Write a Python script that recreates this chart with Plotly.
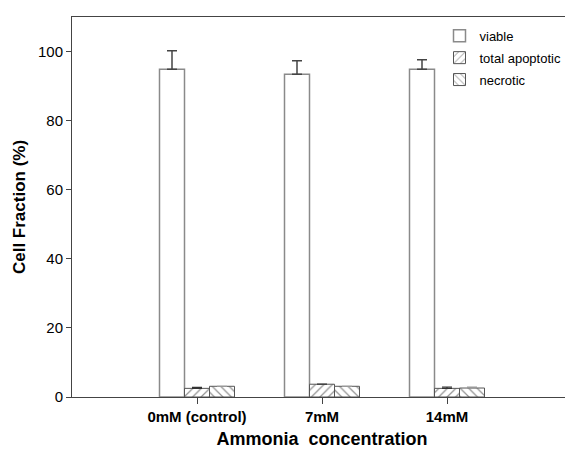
import plotly.graph_objects as go

categories = ["0mM (control)", "7mM", "14mM"]
viable = [94.9, 93.4, 94.9]
viable_err = [5.3, 3.9, 2.7]
apoptotic = [2.5, 3.7, 2.5]
apoptotic_err = [0.3, 0.0, 0.4]
necrotic = [3.1, 3.1, 2.6]
necrotic_err = [0.0, 0.0, 0.3]

xpos = list(range(len(categories)))
font = "Liberation Sans, Arial, Helvetica, sans-serif"

fig = go.Figure()
fig.add_trace(go.Bar(
    name="viable", x=xpos, y=viable, legendgroup="v",
    marker=dict(color="white", line=dict(color="#8a8a8a", width=1.5)),
    error_y=dict(type="data", array=viable_err, arrayminus=[0]*3, symmetric=False,
                 color="#444", thickness=1.5, width=5),
))
fig.add_trace(go.Bar(
    name="total apoptotic", x=xpos, y=apoptotic, legendgroup="a",
    marker=dict(color="white", line=dict(color="#555", width=1),
                pattern=dict(shape="/", fgcolor="#222", bgcolor="white", size=6, solidity=0.2)),
    error_y=dict(type="data", array=apoptotic_err, arrayminus=[0]*3, symmetric=False,
                 color="#333", thickness=1.2, width=5),
))
fig.add_trace(go.Bar(
    name="necrotic", x=xpos, y=necrotic, legendgroup="n",
    marker=dict(color="white", line=dict(color="#555", width=1),
                pattern=dict(shape="\\", fgcolor="#222", bgcolor="white", size=6, solidity=0.2)),
    error_y=dict(type="data", array=necrotic_err, arrayminus=[0]*3, symmetric=False,
                 color="#999", thickness=1.2, width=5),
))

fig.update_layout(
    width=565, height=449,
    margin=dict(l=64, r=1, t=9, b=60, autoexpand=False),
    plot_bgcolor="white", paper_bgcolor="white",
    barmode="group", bargap=0.4, bargroupgap=0,
    font=dict(family=font, color="black", size=14),
    legend=dict(x=0.735, y=0.99, xanchor="left", yanchor="top",
                bgcolor="rgba(0,0,0,0)", font=dict(size=13, family=font),
                itemwidth=30, traceorder="grouped", tracegroupgap=2),
    showlegend=True,
)
fig.update_xaxes(
    range=[-1, 3], tickmode="array", tickvals=xpos, ticktext=[f"<b>{c}</b>" for c in categories],
    ticks="outside", ticklen=6, tickcolor="#444", showline=True, linecolor="#444", linewidth=1,
    mirror=True, showgrid=False, zeroline=False, tickfont=dict(size=15, family=font),
    automargin=False,
    title=dict(text="<b>Ammonia  concentration</b>", font=dict(size=18, family=font), standoff=8),
)
fig.update_yaxes(
    range=[0, 110], tickvals=[0, 20, 40, 60, 80, 100],
    ticks="outside", ticklen=5, tickcolor="#444", showline=True, linecolor="#444", linewidth=1,
    mirror=True, showgrid=False, zeroline=False, tickfont=dict(size=15, family=font),
    automargin=False,
    title=dict(text="<b>Cell Fraction (%)</b>", font=dict(size=17, family=font), standoff=8),
)

fig.write_html("out.html")
